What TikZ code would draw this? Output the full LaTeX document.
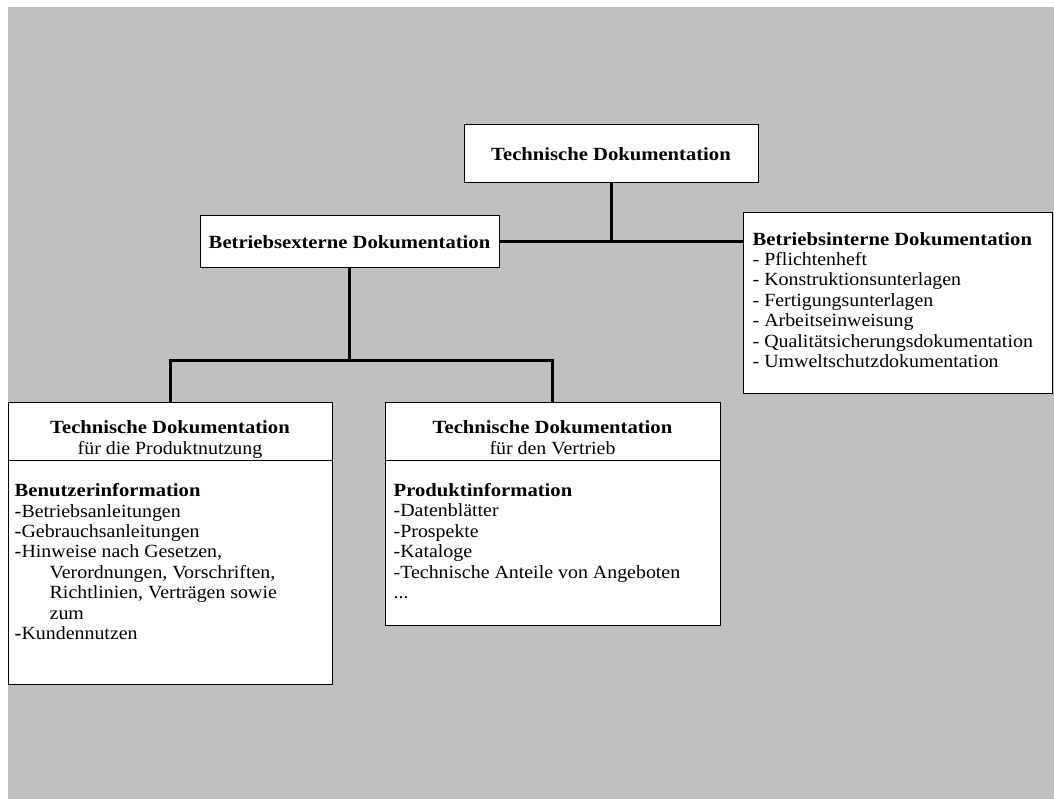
\documentclass[tikz,border=0pt]{standalone}
\usepackage{fontspec}
\setmainfont{Liberation Serif}[FakeStretch=1.07,BoldFeatures={FakeStretch=1.11}]
\usepackage{tikz}
\usetikzlibrary{positioning}

\definecolor{hintergrund}{HTML}{C0C0C0}

\begin{document}
\begin{tikzpicture}[x=1pt, y=-1pt,
    kasten/.style={draw=black, line width=1pt, fill=white, inner sep=0pt,
      font=\fontsize{18.6}{20.4}\selectfont\bfseries},
    titel/.style={font=\fontsize{18.6}{21}\selectfont\bfseries, align=center, inner sep=0pt},
    liste/.style={font=\fontsize{18.6}{20.4}\selectfont, align=left, inner sep=0pt},
    linie/.style={line width=3pt}]
  \useasboundingbox (0,0) rectangle (1054,799);
  \fill[hintergrund] (8,7) rectangle (1054,799);

  \node[kasten, minimum width=294pt, minimum height=58pt] (tdok) at (611,154) {Technische Dokumentation};
  \node[kasten, minimum width=299pt, minimum height=52pt] (extern) at (349.5,242) {Betriebsexterne Dokumentation};
  \node[kasten, minimum width=309pt, minimum height=180pt] (intern) at (897.5,303) {};
  \node[kasten, minimum width=324pt, minimum height=282pt] (nutz) at (170,543) {};
  \node[kasten, minimum width=335pt, minimum height=223pt] (vertr) at (552.5,513.5) {};

  \coordinate (knoten) at (tdok.south |- extern.east);
  \coordinate (verteiler) at ([yshift=-92pt]extern.south);
  \draw[linie] (tdok) -- (knoten);
  \draw[linie] (extern) -- (extern -| intern.west);
  \draw[linie] (extern) -- (verteiler);
  \draw[linie] (nutz) |- (verteiler) -| (vertr);

  \node[liste, anchor=base west] (internliste) at ([xshift=10pt,yshift=-155pt]intern.north west)
    {\textbf{Betriebsinterne Dokumentation}\\- Pflichtenheft\\- Konstruktionsunterlagen\\- Fertigungsunterlagen\\- Arbeitseinweisung\\- Qualitätsicherungsdokumentation\\- Umweltschutzdokumentation};

  \draw[line width=1pt] ([yshift=-59pt]nutz.north west) -- ([yshift=-59pt]nutz.north east);
  \node[titel, anchor=base] (nutzkopf) at ([yshift=-53pt]nutz.north)
    {Technische Dokumentation\\\mdseries für die Produktnutzung};
  \node[liste, anchor=base west] (nutzliste) at ([xshift=7pt,yshift=-238pt]nutz.north west)
    {\textbf{Benutzerinformation}\\\textbf{-}Betriebsanleitungen\\\textbf{-}Gebrauchsanleitungen\\\textbf{-}Hinweise nach Gesetzen,\\
     \hspace*{35pt}Verordnungen, Vorschriften,\\\hspace*{35pt}Richtlinien, Verträgen sowie\\\hspace*{35pt}zum\\\textbf{-}Kundennutzen};

  \draw[line width=1pt] ([yshift=-59pt]vertr.north west) -- ([yshift=-59pt]vertr.north east);
  \node[titel, anchor=base] (vertrkopf) at ([yshift=-53pt]vertr.north)
    {Technische Dokumentation\\\mdseries für den Vertrieb};
  \node[liste, anchor=base west] (vertrliste) at ([xshift=9pt,yshift=-197pt]vertr.north west)
    {\textbf{Produktinformation}\\-Datenblätter\\-Prospekte\\-Kataloge\\-Technische Anteile von Angeboten\\...};
\end{tikzpicture}
\end{document}
